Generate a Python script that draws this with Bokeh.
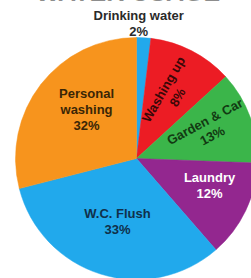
import math
from bokeh.plotting import figure
from bokeh.models import ColumnDataSource, Range1d
from bokeh.embed import file_html
from bokeh.resources import INLINE
from bokeh.core.properties import value

# --- data (clockwise from 12 o'clock) ---
title_text = "WATER USAGE"
categories = ["Drinking water", "Washing up", "Garden & Car", "Laundry", "W.C. Flush", "Personal washing"]
shares = [1.9, 11.3, 12.4, 13.0, 32.4, 29.0]          # slice sizes as drawn in the picture
percent_labels = ["2%", "8%", "13%", "12%", "33%", "32%"]  # printed percentages
label_lines = [["Drinking water"], ["Washing up"], ["Garden & Car"], ["Laundry"],
               ["W.C. Flush"], ["Personal", "washing"]]

# --- style ---
colors = ["#22a9ec", "#ec1c24", "#3bb54a", "#93278f", "#21a9ec", "#f7941d"]
text_colors = ["#2a2a2a", "#3a0808", "#123a12", "#ffffff", "#10304a", "#3a2606"]
label_radius = [1.116, 0.607, 0.645, 0.645, 0.544, 0.578]
label_nudge = [-2.5, 0.4, -2.4, -5.0, -0.5, 6.6]      # degrees
label_rot = [0, 60, 28, 0, 0, 0]                      # degrees CCW
line_step = 16

W, H = 251, 278
cx, cy, R = 136, H - 158, 121

total = sum(shares)
starts, ends, mids = [], [], []
acc = 0.0
for s in shares:
    a0 = acc / total * 2 * math.pi
    acc += s
    a1 = acc / total * 2 * math.pi
    starts.append(math.pi / 2 - a0)
    ends.append(math.pi / 2 - a1)
    mids.append((a0 + a1) / 2)

src = ColumnDataSource(dict(cat=categories, start=starts, end=ends, color=colors))

p = figure(width=W, height=H, output_backend="svg", toolbar_location=None,
           x_range=Range1d(0, W), y_range=Range1d(0, H), min_border=0)
p.axis.visible = False
p.grid.visible = False
p.outline_line_color = None
p.background_fill_color = "white"

p.wedge(x=cx, y=cy, radius=R, start_angle="start", end_angle="end", direction="clock",
        fill_color="color", line_color="color", line_width=0.5, source=src)

# labels, one text per line
lx, ly, txt, tcol, tang = [], [], [], [], []
for i, m in enumerate(mids):
    th = m + math.radians(label_nudge[i])
    r = label_radius[i] * R
    bx = cx + r * math.sin(th)
    by = cy + r * math.cos(th)
    lines = label_lines[i] + [percent_labels[i]]
    n = len(lines)
    a = math.radians(label_rot[i])
    for k, t in enumerate(lines):
        off = (k - (n - 1) / 2) * line_step
        lx.append(bx + off * math.sin(a))
        ly.append(by - off * math.cos(a))
        txt.append(t)
        tcol.append(text_colors[i])
        tang.append(a)

lsrc = ColumnDataSource(dict(x=lx, y=ly, text=txt, color=tcol, angle=tang))
p.text(x="x", y="y", text="text", angle="angle", source=lsrc,
       text_color="color", text_font=value("Liberation Sans"), text_font_style="bold",
       text_font_size="13px", text_align="center", text_baseline="middle")

# title, mostly above the visible area as in the reference
p.text(x=[W / 2 + 2], y=[H - 5], text=[title_text], text_color="#2a2a2a",
       text_font=value("Liberation Sans"), text_font_style="bold",
       text_font_size="25px", text_align="center", text_baseline="bottom")

open("out.html", "w").write(file_html(p, INLINE))
